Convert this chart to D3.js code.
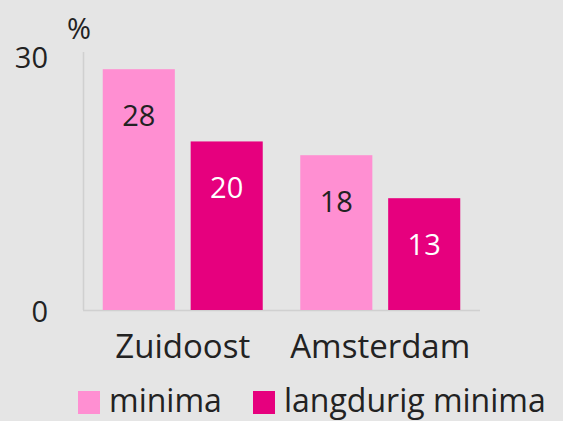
<!DOCTYPE html>
<html>
<head>
<meta charset="utf-8">
<script src="https://cdn.jsdelivr.net/npm/d3@7"></script>
<style>
  body { margin: 0; background: #e5e5e5; }
  svg { display: block; font-family: "Open Sans", sans-serif; }
</style>
</head>
<body>
<svg width="563" height="421"></svg>
<script>
var categories = ["Zuidoost", "Amsterdam"];
var seriesNames = ["minima", "langdurig minima"];
var minima = [28, 18];
var langdurig = [19.6, 13];
var yTicks = [0, 30];

var svg = d3.select("svg"),
    width = +svg.attr("width"),
    height = +svg.attr("height");

svg.append("rect").attr("width", width).attr("height", height).attr("fill", "#e5e5e5");

var colors = {"minima": "#ff8fd2", "langdurig minima": "#e6007e"};
var labelColors = {"minima": "#222", "langdurig minima": "#fff"};

var data = categories.map(function(c, i) {
  return {cat: c, values: [
    {key: "minima", value: minima[i]},
    {key: "langdurig minima", value: langdurig[i]}
  ]};
});

var x0 = d3.scaleBand()
    .domain(categories)
    .range([83, 480])
    .paddingInner(0.19)
    .paddingOuter(0.1);

var x1 = d3.scaleBand()
    .domain(seriesNames)
    .range([0, x0.bandwidth()])
    .paddingInner(0.18);

var y = d3.scaleLinear()
    .domain([0, 30])
    .range([310, 52]);

// axis lines
svg.append("line")
    .attr("x1", 83.5).attr("x2", 83.5)
    .attr("y1", y(30)).attr("y2", y(0))
    .attr("stroke", "#d0d0d0").attr("stroke-width", 1.5);
svg.append("line")
    .attr("x1", 83).attr("x2", 480)
    .attr("y1", y(0) + 0.5).attr("y2", y(0) + 0.5)
    .attr("stroke", "#d0d0d0").attr("stroke-width", 1.5);

// y tick labels
svg.selectAll(".ytick")
  .data(yTicks)
  .enter().append("text")
    .attr("class", "ytick")
    .attr("x", 48)
    .attr("y", function(d) { return y(d) + (d ? 6 : 2); })
    .attr("dy", "0.35em")
    .attr("text-anchor", "end")
    .style("font-size", "29px")
    .attr("fill", "#222")
    .text(function(d) { return d; });

svg.append("text")
    .attr("x", 67).attr("y", 39)
    .style("font-size", "29px")
    .attr("fill", "#222")
    .text("%");

var group = svg.selectAll(".group")
  .data(data)
  .enter().append("g")
    .attr("class", "group")
    .attr("transform", function(d) { return "translate(" + x0(d.cat) + ",0)"; });

group.selectAll("rect")
  .data(function(d) { return d.values; })
  .enter().append("rect")
    .attr("x", function(d) { return x1(d.key); })
    .attr("y", function(d) { return y(d.value); })
    .attr("width", x1.bandwidth())
    .attr("height", function(d) { return y(0) - y(d.value); })
    .attr("fill", function(d) { return colors[d.key]; });

group.selectAll(".val")
  .data(function(d) { return d.values; })
  .enter().append("text")
    .attr("class", "val")
    .attr("x", function(d) { return x1(d.key) + x1.bandwidth() / 2; })
    .attr("y", function(d) { return y(d.value) + 57; })
    .attr("text-anchor", "middle")
    .style("font-size", "29px")
    .attr("fill", function(d) { return labelColors[d.key]; })
    .text(function(d) { return d3.format(".0f")(d.value); });

// category labels
svg.selectAll(".cat")
  .data(categories)
  .enter().append("text")
    .attr("class", "cat")
    .attr("x", function(d) { return x0(d) + x0.bandwidth() / 2; })
    .attr("y", 358)
    .attr("text-anchor", "middle")
    .style("font-size", "33px")
    .attr("fill", "#222")
    .text(function(d) { return d; });

// legend
var legendX = [78, 253];
var legend = svg.selectAll(".legend")
  .data(seriesNames)
  .enter().append("g")
    .attr("class", "legend")
    .attr("transform", function(d, i) { return "translate(" + legendX[i] + ",391)"; });

legend.append("rect")
    .attr("width", 22).attr("height", 23)
    .attr("fill", function(d) { return colors[d]; });

legend.append("text")
    .attr("x", 31).attr("y", 21)
    .style("font-size", "32px")
    .attr("fill", "#222")
    .text(function(d) { return d; });
</script>
</body>
</html>
